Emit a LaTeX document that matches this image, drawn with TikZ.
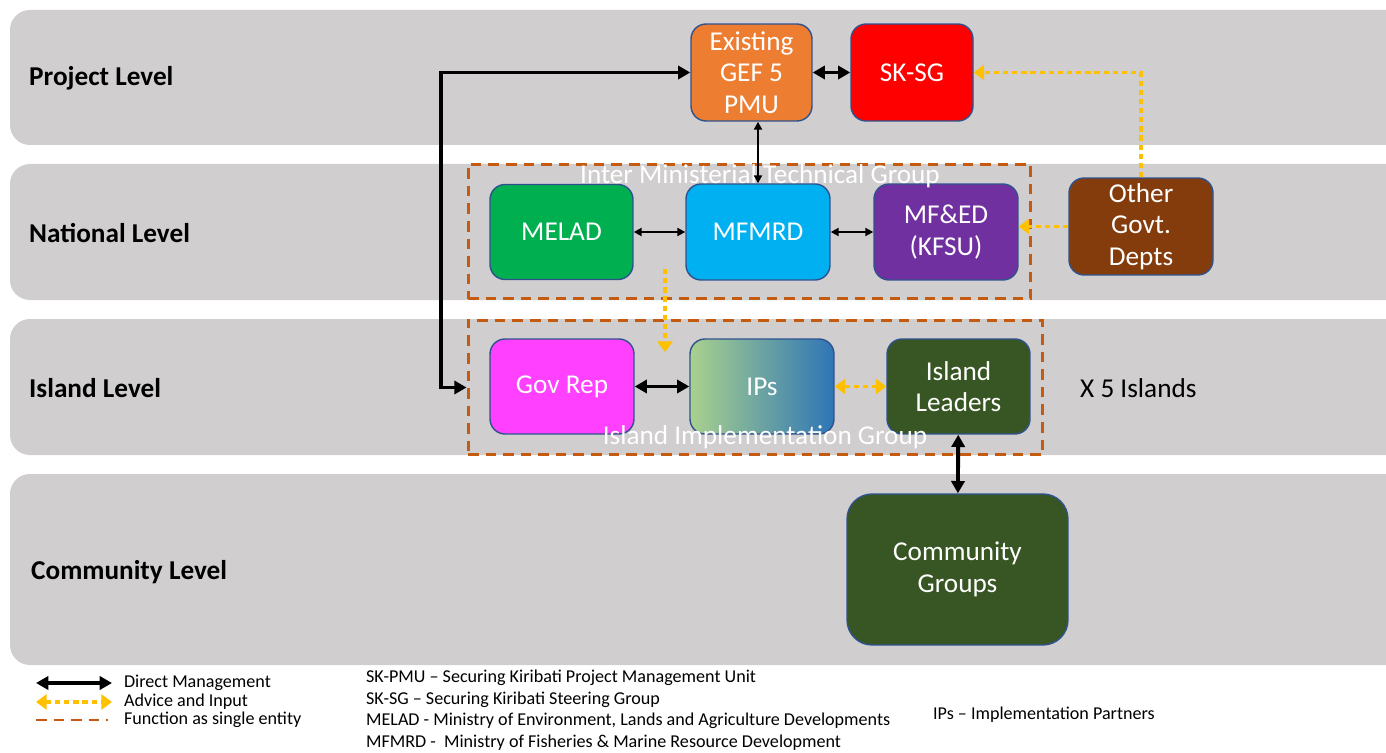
\documentclass[tikz,border=0pt]{standalone}
\usepackage{fontspec}
\setmainfont{Carlito}
\usetikzlibrary{arrows.meta}

\definecolor{bandgray}{HTML}{D0CECE}
\definecolor{boxline}{HTML}{2F528F}
\definecolor{pmuorange}{HTML}{ED7D31}
\definecolor{sgred}{HTML}{FF0000}
\definecolor{meladgreen}{HTML}{00B050}
\definecolor{mfmrdblue}{HTML}{00B0F0}
\definecolor{mfedpurple}{HTML}{7030A0}
\definecolor{otherbrown}{HTML}{843C0C}
\definecolor{govpink}{HTML}{FF40FF}
\definecolor{ipsgreen}{HTML}{A9D18E}
\definecolor{ipsblue}{HTML}{2E75B6}
\definecolor{leaderdark}{HTML}{375623}
\definecolor{groupline}{HTML}{C55A11}
\definecolor{adviceyellow}{HTML}{FFC000}

\tikzset{
  band/.style={fill=bandgray, rounded corners=0.4cm},
  unit/.style={draw=boxline, line width=0.8pt, rounded corners=0.3cm, text=white,
    align=center, font=\fontsize{15.5}{18}\selectfont, inner sep=2pt,
    minimum width=2.88cm, minimum height=1.92cm},
  grouping/.style={draw=groupline, line width=1.7pt, dash pattern=on 6pt off 4pt},
  grouplabel/.style={text=white, font=\fontsize{15.5}{18}\selectfont},
  levellabel/.style={anchor=west, font=\fontsize{15.5}{18}\selectfont\bfseries},
  keytext/.style={anchor=west, font=\fontsize{10.3}{12}\selectfont, inner sep=1pt},
  manage/.style={{Triangle[length=7pt,width=7.5pt]}-{Triangle[length=7pt,width=7.5pt]}, line width=2.2pt},
  thinmanage/.style={{Triangle[length=4.5pt,width=4.5pt]}-{Triangle[length=4.5pt,width=4.5pt]}, line width=1.1pt},
  advice/.style={adviceyellow, line width=2.2pt, dash pattern=on 3pt off 2.2pt,
    -{Triangle[length=6pt,width=8.5pt]}},
  advicetwo/.style={advice, {Triangle[length=6pt,width=8.5pt]}-{Triangle[length=6pt,width=8.5pt]}},
}

\begin{document}
\begin{tikzpicture}[x=0.02cm, y=-0.02cm]
 \clip (0,0) rectangle (1386,753);

 % level bands
 \fill[band] (10,10) rectangle (1420,145);
 \fill[band] (10,164) rectangle (1420,300);
 \fill[band] (10,319) rectangle (1420,455);
 \fill[band] (10,474) rectangle (1420,665);

 \node[levellabel] (project) at (23,78) {Project Level};
 \node[levellabel] (national) at (23,233) {National Level};
 \node[levellabel] (island) at (23,388) {Island Level};
 \node[levellabel] (community) at (25,572) {Community Level};

 % groups working as one
 \node[grouping, minimum width=11.26cm, minimum height=2.7cm] (imtg) at (749.5,231.5) {};
 \node[grouping, minimum width=11.5cm, minimum height=2.7cm] (iig) at (755.5,387.5) {};

 % units
 \node[unit, fill=pmuorange, minimum width=2.42cm, minimum height=1.94cm] (pmu) at (751.5,72.5) {Existing\\GEF 5\\PMU};
 \node[unit, fill=sgred, minimum width=2.44cm, minimum height=1.94cm] (sksg) at (912,72.5) {SK-SG};

 \node[unit, fill=meladgreen, minimum width=2.86cm, minimum height=1.9cm] (melad) at (561.5,232) {MELAD};
 \node[unit, fill=mfmrdblue] (mfmrd) at (758,232) {MFMRD};
 \node[unit, fill=mfedpurple] (mfed) at (946,232) {MF\&ED\\(KFSU)};
 \node[unit, fill=otherbrown, minimum height=1.94cm] (other) at (1141,226.5) {Other\\Govt.\\Depts};

 \node[unit, fill=govpink, minimum height=1.9cm] (govrep) at (562,386.5) {Gov Rep};
 \node[unit, left color=ipsgreen, right color=ipsblue, minimum height=1.9cm] (ips) at (762,386.5) {IPs};
 \node[unit, fill=leaderdark, minimum width=2.86cm, minimum height=1.9cm] (leaders) at (958.5,386.5) {Island\\Leaders};

 \node[unit, fill=leaderdark, minimum width=4.42cm, minimum height=3.02cm, rounded corners=0.5cm] (groups) at (957.5,569.5) {Community\\Groups};

 \node[grouplabel] (imtglabel) at (760,176) {Inter Ministerial Technical Group};
 \node[grouplabel] (iiglabel) at (765,437) {Island Implementation Group};

 \node[font=\fontsize{15.5}{18}\selectfont, anchor=west] (islands) at (1074,388) {X 5 Islands};

 % direct management
 \coordinate (turn) at (441,72.5);
 \draw[manage] (pmu.west) -- (turn) |- (iig.west);
 \draw[manage] (pmu) -- (sksg);
 \draw[thinmanage] (pmu.south -| mfmrd) -- (mfmrd.north);
 \draw[thinmanage] (melad) -- (mfmrd);
 \draw[thinmanage] (mfmrd) -- (mfed);
 \draw[manage] (govrep) -- (ips);
 \draw[manage] (leaders) -- (groups);

 % advice and input
 \draw[advice] (other.north) |- (sksg.east);
 \draw[advice] (other.west) -- (other.west -| mfed.east);
 \coordinate (tap) at (665,269);
 \coordinate (drop) at (665,352);
 \draw[advice] (tap) -- (drop);
 \draw[advicetwo] (ips) -- (leaders);

 % key
 \node[keytext] (k1) at (122,683) {Direct Management};
 \node[keytext] (k2) at (122,702) {Advice and Input};
 \node[keytext] (k3) at (122,720) {Function as single entity};
 \draw[manage] ([xshift=-1.72cm]k1.west) -- ([xshift=-0.2cm]k1.west);
 \draw[advicetwo] ([xshift=-1.72cm]k2.west) -- ([xshift=-0.2cm]k2.west);
 \draw[grouping] ([xshift=-1.72cm]k3.west) -- ([xshift=-0.28cm]k3.west);

 \node[keytext] (a1) at (364,678) {SK-PMU – Securing Kiribati Project Management Unit};
 \node[keytext] (a2) at (364,700) {SK-SG – Securing Kiribati Steering Group};
 \node[keytext] (a3) at (364,721) {MELAD - Ministry of Environment, Lands and Agriculture Developments};
 \node[keytext] (a4) at (364,743) {MFMRD -\ \ Ministry of Fisheries \& Marine Resource Development};
 \node[keytext] (a5) at (931,715) {IPs – Implementation Partners};
\end{tikzpicture}
\end{document}
